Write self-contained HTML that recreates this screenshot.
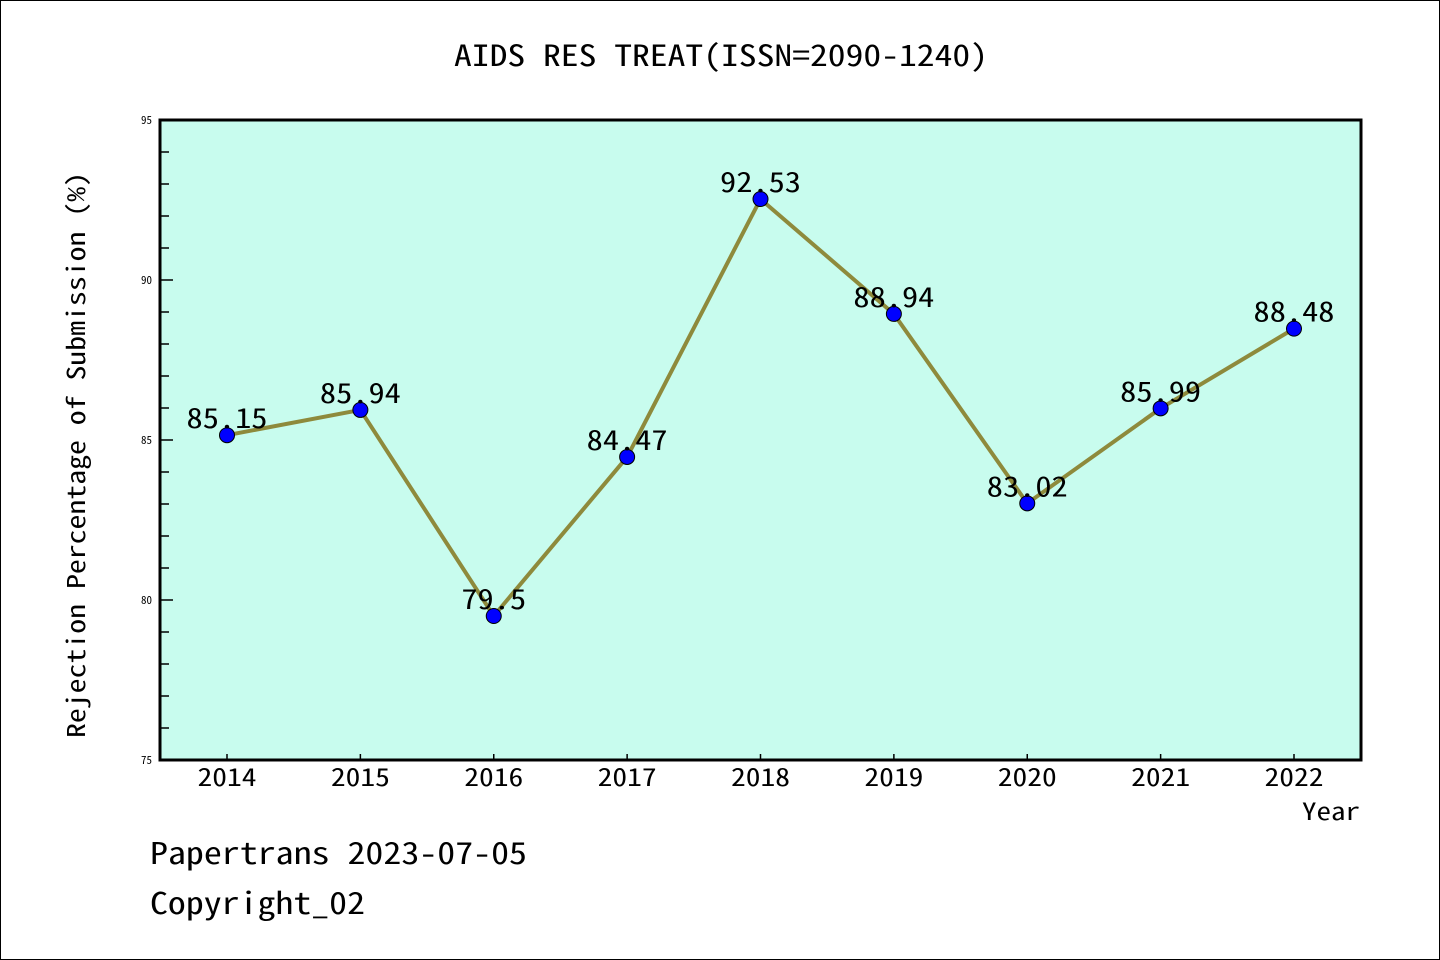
<!DOCTYPE html>
<html><head><meta charset="utf-8"><style>
body{margin:0;background:#fff}
svg{display:block;font-family:"Noto Sans Mono CJK SC","WenQuanYi Zen Hei Mono","Liberation Mono",monospace}
</style></head><body>
<svg width="1440" height="960">
<rect x="0.5" y="0.5" width="1439" height="959" fill="#fff" stroke="#000"/>
<text x="454" y="66" font-size="29.5" textLength="534" lengthAdjust="spacingAndGlyphs">AIDS RES TREAT(ISSN=2090-1240)</text>
<rect x="160" y="120" width="1201" height="640" fill="#c8fcee"/>
<g id="axes"></g>
<g id="marks"></g>
<rect x="160" y="120" width="1201" height="640" fill="none" stroke="#000" stroke-width="3"/>
<text transform="translate(85,738) rotate(-90)" font-size="24.8" textLength="566" lengthAdjust="spacingAndGlyphs">Rejection Percentage of Submission (%)</text>
<text x="1302" y="820" font-size="24" textLength="58" lengthAdjust="spacingAndGlyphs">Year</text>
<text x="150" y="864" font-size="30" textLength="377" lengthAdjust="spacingAndGlyphs">Papertrans 2023-07-05</text>
<text x="150" y="914" font-size="30" textLength="215" lengthAdjust="spacingAndGlyphs">Copyright_02</text>
</svg>
<script>
const years=["2014","2015","2016","2017","2018","2019","2020","2021","2022"];
const values=[85.15,85.94,79.5,84.47,92.53,88.94,83.02,85.99,88.48];
const labels=["85.15","85.94","79.5","84.47","92.53","88.94","83.02","85.99","88.48"];
const yTicks=[75,80,85,90,95];
const NS="http://www.w3.org/2000/svg";
const xs=i=>227+i*(1294-227)/(years.length-1);
const ys=v=>760-(v-75)*32;
function mk(t,a,p){const e=document.createElementNS(NS,t);for(const k in a)e.setAttribute(k,a[k]);p.appendChild(e);return e;}
const ax=document.getElementById('axes'),mg=document.getElementById('marks');
for(let v=75;v<=95;v++){const major=v%5===0;
 const l=mk('line',{x1:160,x2:major?173:169,y1:ys(v),y2:ys(v),stroke:'#000','stroke-width':1.5},ax);
 
 }
yTicks.forEach(v=>{const t=mk('text',{x:152,y:ys(v)+4,'text-anchor':'end','font-size':11},ax);t.textContent=v;
 
 });
years.forEach((y,i)=>{const l=mk('line',{x1:xs(i),x2:xs(i),y1:760,y2:754,stroke:'#000','stroke-width':1.5},ax);
 
 
 const t=mk('text',{x:xs(i),y:786,'text-anchor':'middle','font-size':24.5,textLength:59,lengthAdjust:'spacingAndGlyphs'},ax);t.textContent=y;
 
 });
const pl=mk('polyline',{points:values.map((v,i)=>xs(i)+','+ys(v)).join(' '),fill:'none',stroke:'#8e8a3c','stroke-width':4},mg);


values.forEach((v,i)=>{const c=mk('circle',{cx:xs(i),cy:ys(v),r:7.5,fill:'#0000ff',stroke:'#000','stroke-width':1},mg);
 
 
 const t=mk('text',{x:xs(i),y:ys(v)-7,'text-anchor':'middle','font-size':27,textLength:labels[i].length*16.2,lengthAdjust:'spacingAndGlyphs'},mg);t.textContent=labels[i];
 
 });
</script>
</body></html>
